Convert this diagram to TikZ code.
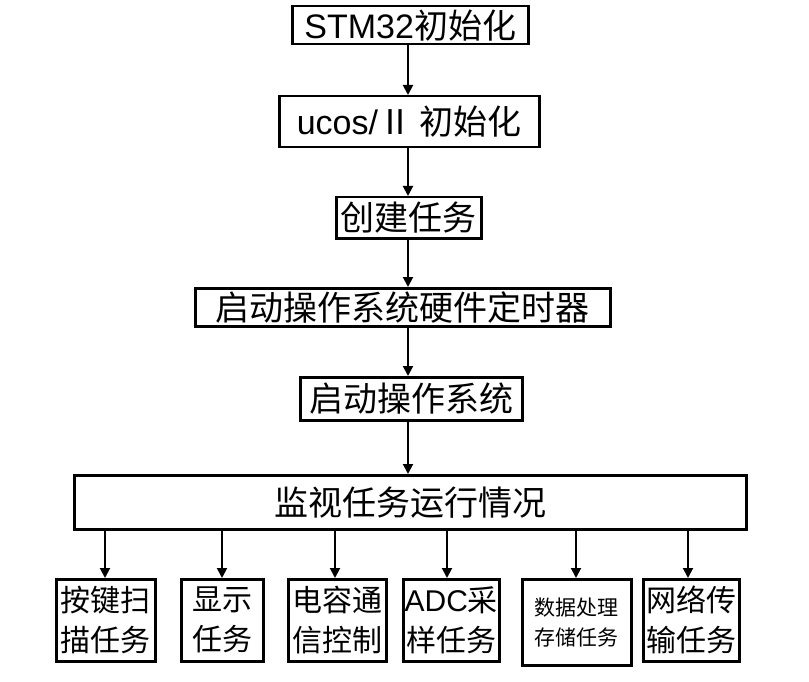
\documentclass[tikz,border=0pt]{standalone}
\usepackage{fontspec}
\setmainfont{Liberation Sans}
\newfontfamily\cjk{Noto Sans CJK SC}
\usetikzlibrary{arrows.meta}
\begin{document}
\begin{tikzpicture}[x=1pt,y=-1pt,
  bx/.style={draw,line width=2.5pt,inner sep=0pt,anchor=north west},
  big/.style={font=\fontsize{34}{36}\selectfont},
  sm/.style={font=\fontsize{30}{40}\selectfont,align=center},
  arr/.style={line width=2pt,-{Triangle[length=10pt,width=10pt]}}]
\useasboundingbox (0,0) rectangle (809,682);
\node[bx,big,minimum width=236pt,minimum height=38pt] (a) at (291,5) {STM32{\cjk 初始化}};
\node[bx,big,minimum width=260pt,minimum height=51pt] (b) at (278,95) {ucos/{\cjk Ⅱ 初始化}};
\node[bx,big,minimum width=145pt,minimum height=41pt] (c) at (335,196) {\cjk 创建任务};
\node[bx,big,minimum width=415pt,minimum height=38pt] (d) at (194,287) {\cjk 启动操作系统硬件定时器};
\node[bx,big,minimum width=222pt,minimum height=43pt] (e) at (299,376) {\cjk 启动操作系统};
\node[bx,big,minimum width=672pt,minimum height=54pt] (f) at (73,474) {\cjk 监视任务运行情况};
\draw[arr] (408,43) -- (408,95);
\draw[arr] (408,146) -- (408,196);
\draw[arr] (408,237) -- (408,287);
\draw[arr] (408,325) -- (408,376);
\draw[arr] (408,419) -- (408,474);
\node[bx,sm,minimum width=99pt,minimum height=82pt] (g1) at (55,578) {\cjk 按键扫\\\cjk 描任务};
\node[bx,sm,minimum width=82pt,minimum height=82pt] (g2) at (180,578) {\cjk 显示\\\cjk 任务};
\node[bx,sm,minimum width=98pt,minimum height=82pt] (g3) at (287,578) {\cjk 电容通\\\cjk 信控制};
\node[bx,sm,minimum width=96pt,minimum height=82pt] (g4) at (402,578) {ADC{\cjk 采}\\\cjk 样任务};
\node[bx,font=\fontsize{21}{30}\selectfont,align=center,minimum width=109pt,minimum height=86pt] (g5) at (521,578) {\cjk 数据处理\\\cjk 存储任务};
\node[bx,sm,minimum width=96pt,minimum height=82pt] (g6) at (642,578) {\cjk 网络传\\\cjk 输任务};
\foreach \n/\x in {g1/105,g2/222,g3/335,g4/447,g5/576,g6/688}
  \draw[arr] (\x,528) -- (\x,578);
\end{tikzpicture}
\end{document}
